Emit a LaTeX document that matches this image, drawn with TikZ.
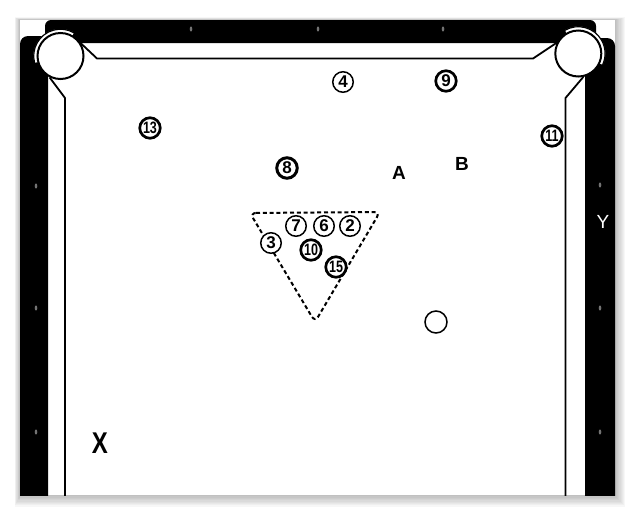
\documentclass[tikz,border=0pt]{standalone}
\usepackage{fontspec}
\setsansfont{Liberation Sans}
\newcommand{\narrow}[1]{{\fontsize{16.5}{16.5}\selectfont\scalebox{0.76}[1]{#1}}}
\begin{document}
\begin{tikzpicture}[x=1pt,y=-1pt,
  ball/.style={circle,draw,fill=white,minimum size=20.5pt,inner sep=0pt,line width=1.5pt,
    font=\sffamily\bfseries\fontsize{17}{17}\selectfont},
  stripe/.style={ball,line width=2.7pt},
  pocket/.style={circle,draw,fill=white,minimum size=46pt,inner sep=0pt,line width=2pt},
  cushion/.style={line width=1.8pt,line join=round},
  rack/.style={line width=2pt,dash pattern=on 4pt off 2.8pt,rounded corners=6pt},
  letter/.style={font=\sffamily\bfseries\fontsize{19}{19}\selectfont,inner sep=0pt},
  sight/.style={fill=black!55}]
\useasboundingbox (0,0) rectangle (637,515);
% drop shadow
\foreach \i in {1,...,9}{
  \fill[black,opacity=0.03] (20-\i*0.6,20-\i*0.3) rectangle (615+\i*1.1,495+\i*1.3);
}
\fill[white] (20,20) rectangle (615,495);
\begin{scope}
\clip (20,20) rectangle (615,495);
% rails
\fill[black,rounded corners=6pt] (45,20) rectangle (596,43);
\fill[black,rounded corners=8pt] (20,36) rectangle (48,520);
\fill[black,rounded corners=8pt] (585,38) rectangle (615,520);
% sights
\foreach \x in {191,318,443} \fill[sight] (\x,29) ellipse (1.3 and 2.6);
\foreach \y in {186,308,432} \fill[sight] (36,\y) ellipse (1.3 and 2.6);
\foreach \y in {185,308,432} \fill[sight] (600,\y) ellipse (1.3 and 2.6);
% pockets
\draw[white,line width=4pt] (60.5,56) ++(165:25) arc[start angle=165,end angle=300,radius=25];
\draw[line width=1.2pt] (60.5,56) ++(165:26.8) arc[start angle=165,end angle=300,radius=26.8];
\node[pocket] (pTL) at (60.5,56) {};
\draw[white,line width=4pt] (578.3,53.5) ++(240:25) arc[start angle=240,end angle=385,radius=25];
\draw[line width=1.2pt] (578.3,53.5) ++(240:26.8) arc[start angle=240,end angle=385,radius=26.8];
\node[pocket] (pTR) at (578.3,53.5) {};
% cushions
\coordinate (tl1) at (97,58.5);
\coordinate (tr1) at (533,58.5);
\coordinate (l1) at (65,98);
\coordinate (l2) at (65,500);
\coordinate (r1) at (565.5,98);
\coordinate (r2) at (565.5,500);
\draw[cushion] (pTL.32) -- (tl1) -- (tr1) -- (pTR.153);
\draw[cushion] (pTL.243) -- (l1) -- (l2);
\draw[cushion] (pTR.282) -- (r1) -- (r2);
\end{scope}
% rack
\coordinate (k1) at (250,213);
\coordinate (k2) at (380,212);
\coordinate (k3) at (315,322);
\draw[rack] (k1) -- (k2) -- (k3) -- cycle;
% balls
\node[ball] (b4) at (343,82) {4};
\node[stripe] (b9) at (446,81) {9};
\node[stripe] (b13) at (150,128) {\narrow{13}};
\node[stripe,line width=3pt] (b8) at (287,168) {8};
\node[stripe] (b11) at (552,136) {\narrow{11}};
\node[ball] (b7) at (296,226) {7};
\node[ball] (b6) at (324,226) {6};
\node[ball] (b2) at (350,226) {2};
\node[ball] (b3) at (271,243) {3};
\node[stripe] (b10) at (311,250) {\narrow{10}};
\node[stripe] (b15) at (336,267) {\narrow{15}};
\node[circle,draw,line width=1.5pt,minimum size=22pt,inner sep=0pt] (cue) at (436,322) {};
% letters
\node[letter] (A) at (399,173) {A};
\node[letter] (B) at (462,164) {B};
\node[letter,font=\sffamily\fontsize{19}{19}\selectfont,text=white] (Y) at (603,222) {Y};
\node[letter,font=\sffamily\bfseries\fontsize{30}{30}\selectfont,xscale=0.8] (X) at (100,443) {X};
\end{tikzpicture}
\end{document}
